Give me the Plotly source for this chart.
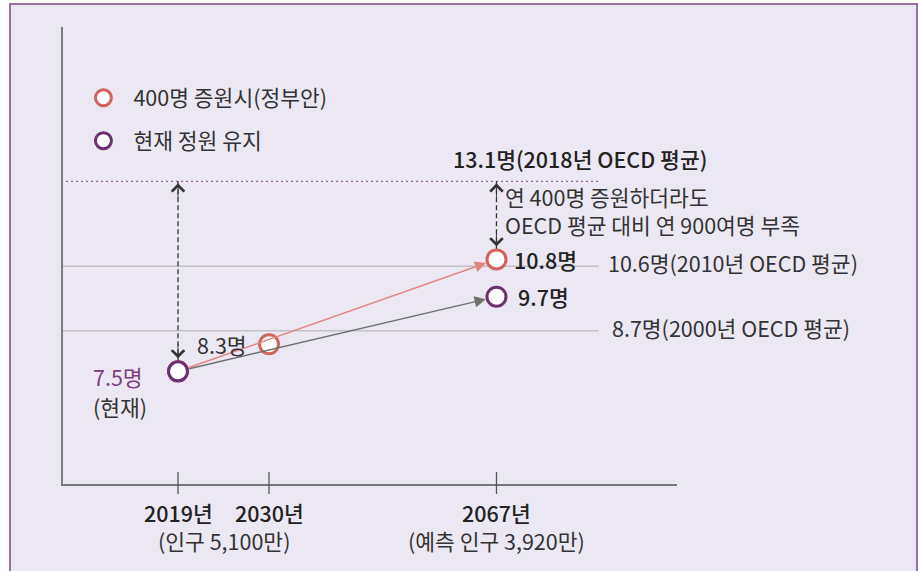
import plotly.graph_objects as go

# ---- data -------------------------------------------------------------
years = ["2019년", "2030년", "2067년"]
x_pos = [0, 1, 3.5]                     # timeline positions (scale is broken after 2030)
population = ["(인구 5,100만)", "(예측 인구 3,920만)"]
population_cols = [[0, 1], [2]]         # year columns each population note sits under

plan_name = "400명 증원시(정부안)"
plan_values = [7.5, 8.3, 10.8]
keep_name = "현재 정원 유지"
keep_values = [7.5, None, 9.7]

oecd_values = [13.1, 10.6, 8.7]
oecd_labels = ["13.1명(2018년 OECD 평균)", "10.6명(2010년 OECD 평균)", "8.7명(2000년 OECD 평균)"]
gap_note = "연 400명 증원하더라도<br>OECD 평균 대비 연 900여명 부족"
current_note = "(현재)"

# ---- style ------------------------------------------------------------
FONT = "Noto Sans CJK KR"
FS = 21.5
RED = "#D4625C"
RED_LINE = "#E0877F"
PURPLE = "#6B2F72"
PURPLE_TXT = "#7D3C84"
TXT = "#333333"
TXT_DARK = "#222222"
BG = "#ECE8F3"
FRAME = "#9B6FA0"
BOLD = 500
ref_line_end = 4.62

fig = go.Figure()

fig.add_trace(go.Scatter(
    x=x_pos, y=plan_values, mode="markers", name=plan_name, legendgroup="a",
    marker=dict(size=19, color="white", line=dict(color=RED, width=3)),
    hoverinfo="skip"))
fig.add_trace(go.Scatter(
    x=x_pos, y=keep_values, mode="markers", name=keep_name, legendgroup="b",
    marker=dict(size=19, color="white", line=dict(color=PURPLE, width=3)),
    hoverinfo="skip"))

shapes = []
# panel frame (open at the bottom)
shapes.append(dict(type="rect", layer="below", xref="paper", yref="paper",
                   xsizemode="pixel", ysizemode="pixel", xanchor=0, yanchor=0,
                   x0=-53, x1=854, y0=-110, y1=480,
                   fillcolor=BG, line=dict(color=FRAME, width=2)))
# OECD reference lines
shapes.append(dict(type="line", layer="below", xref="x", yref="y",
                   x0=-2, x1=ref_line_end, y0=oecd_values[0], y1=oecd_values[0],
                   line=dict(color="#9A5A9A", width=1.3, dash="2px,3px")))
for v in oecd_values[1:]:
    shapes.append(dict(type="line", layer="below", xref="x", yref="y",
                       x0=-2, x1=ref_line_end, y0=v, y1=v,
                       line=dict(color="#C4C0C8", width=1.5)))
# dashed gap markers
for xi, v in [(x_pos[0], plan_values[0]), (x_pos[2], plan_values[2])]:
    shapes.append(dict(type="line", layer="below", xref="x", yref="y",
                       x0=xi, x1=xi, y0=oecd_values[0], y1=v,
                       line=dict(color="#333333", width=1.3, dash="5px,3px")))
# x-axis ticks crossing the axis
for xi in x_pos:
    shapes.append(dict(type="line", xref="x", yref="paper", ysizemode="pixel", yanchor=0,
                       x0=xi, x1=xi, y0=-10, y1=12,
                       line=dict(color="#555555", width=1.3)))

ann = []
# series arrows
ann.append(dict(x=x_pos[2], y=plan_values[2], ax=x_pos[0], ay=plan_values[0],
                axref="x", ayref="y", text="", showarrow=True, arrowhead=2,
                arrowsize=1.6, arrowwidth=1.4, arrowcolor=RED_LINE,
                standoff=11, startstandoff=10))
ann.append(dict(x=x_pos[2], y=keep_values[2], ax=x_pos[0], ay=keep_values[0],
                axref="x", ayref="y", text="", showarrow=True, arrowhead=2,
                arrowsize=1.6, arrowwidth=1.4, arrowcolor="#6F6F6F",
                standoff=11, startstandoff=10))
# open arrow heads of the dashed gap markers
for xi, v in [(x_pos[0], plan_values[0]), (x_pos[2], plan_values[2])]:
    ann.append(dict(x=xi, y=oecd_values[0], ax=0, ay=16, text="", showarrow=True,
                    arrowhead=4, arrowsize=2.7, arrowwidth=0.9, arrowcolor="#333333",
                    yshift=-2))
    ann.append(dict(x=xi, y=v, ax=0, ay=-16, text="", showarrow=True,
                    arrowhead=4, arrowsize=2.7, arrowwidth=0.9, arrowcolor="#333333",
                    yshift=13))

def label(x, y, text, xanchor="left", xshift=0, yshift=0, color=TXT, weight="normal"):
    ann.append(dict(x=x, y=y, xref="x", yref="y", text=text, showarrow=False,
                    xanchor=xanchor, yanchor="middle", xshift=xshift, yshift=yshift,
                    align="left", font=dict(family=FONT, size=FS, color=color, weight=weight)))

# value labels
label(x_pos[0], plan_values[0], f"{plan_values[0]}명", "left", -87, -5, PURPLE_TXT)
label(x_pos[0], plan_values[0], current_note, "left", -87, -35)
label(x_pos[1], plan_values[1], f"{plan_values[1]}명", "right", -20, 0)
label(x_pos[2], plan_values[2], f"{plan_values[2]}명", "left", 16, 0, TXT_DARK, BOLD)
label(x_pos[2], keep_values[2], f"{keep_values[2]}명", "left", 20, 0, TXT_DARK, BOLD)

# OECD labels
label(x_pos[2], oecd_values[0], oecd_labels[0], "left", -45, 23, TXT_DARK, BOLD)
label(x_pos[2], (oecd_values[0] + plan_values[2]) / 2, gap_note, "left", 7, 10)
label(ref_line_end, oecd_values[1], oecd_labels[1], "left", 8, 4)
label(ref_line_end, oecd_values[2], oecd_labels[2], "left", 12, 3)

# category labels under the axis
for xi, yr in zip(x_pos, years):
    ann.append(dict(x=xi, y=0, xref="x", yref="paper", text=yr, showarrow=False,
                    xanchor="center", yanchor="middle", yshift=-28,
                    font=dict(family=FONT, size=FS, color=TXT_DARK, weight=BOLD)))
for cols, txt in zip(population_cols, population):
    xc = sum(x_pos[c] for c in cols) / len(cols)
    ann.append(dict(x=xc, y=0, xref="x", yref="paper", text=txt, showarrow=False,
                    xanchor="center", yanchor="middle", yshift=-56,
                    font=dict(family=FONT, size=FS, color=TXT)))

fig.update_layout(
    width=919, height=571,
    margin=dict(l=63, r=242, t=27, b=87, pad=0),
    paper_bgcolor="white", plot_bgcolor="rgba(0,0,0,0)",
    font=dict(family=FONT, size=FS, color=TXT),
    showlegend=True,
    legend=dict(x=0.017, y=0.89, xanchor="left", yanchor="top", itemwidth=50,
                bgcolor="rgba(0,0,0,0)", tracegroupgap=12,
                font=dict(family=FONT, size=FS, color=TXT)),
    xaxis=dict(range=[-1.264, 5.484], showgrid=False, zeroline=False,
               showticklabels=False, ticks="", showline=True,
               linecolor="#777777", linewidth=1.5, fixedrange=True),
    yaxis=dict(range=[4.18, 17.65], showgrid=False, zeroline=False,
               showticklabels=False, ticks="", showline=True,
               linecolor="#7D7D7D", linewidth=2, fixedrange=True),
    shapes=shapes, annotations=ann,
)

fig.write_html("out.html", config=dict(displayModeBar=False))
